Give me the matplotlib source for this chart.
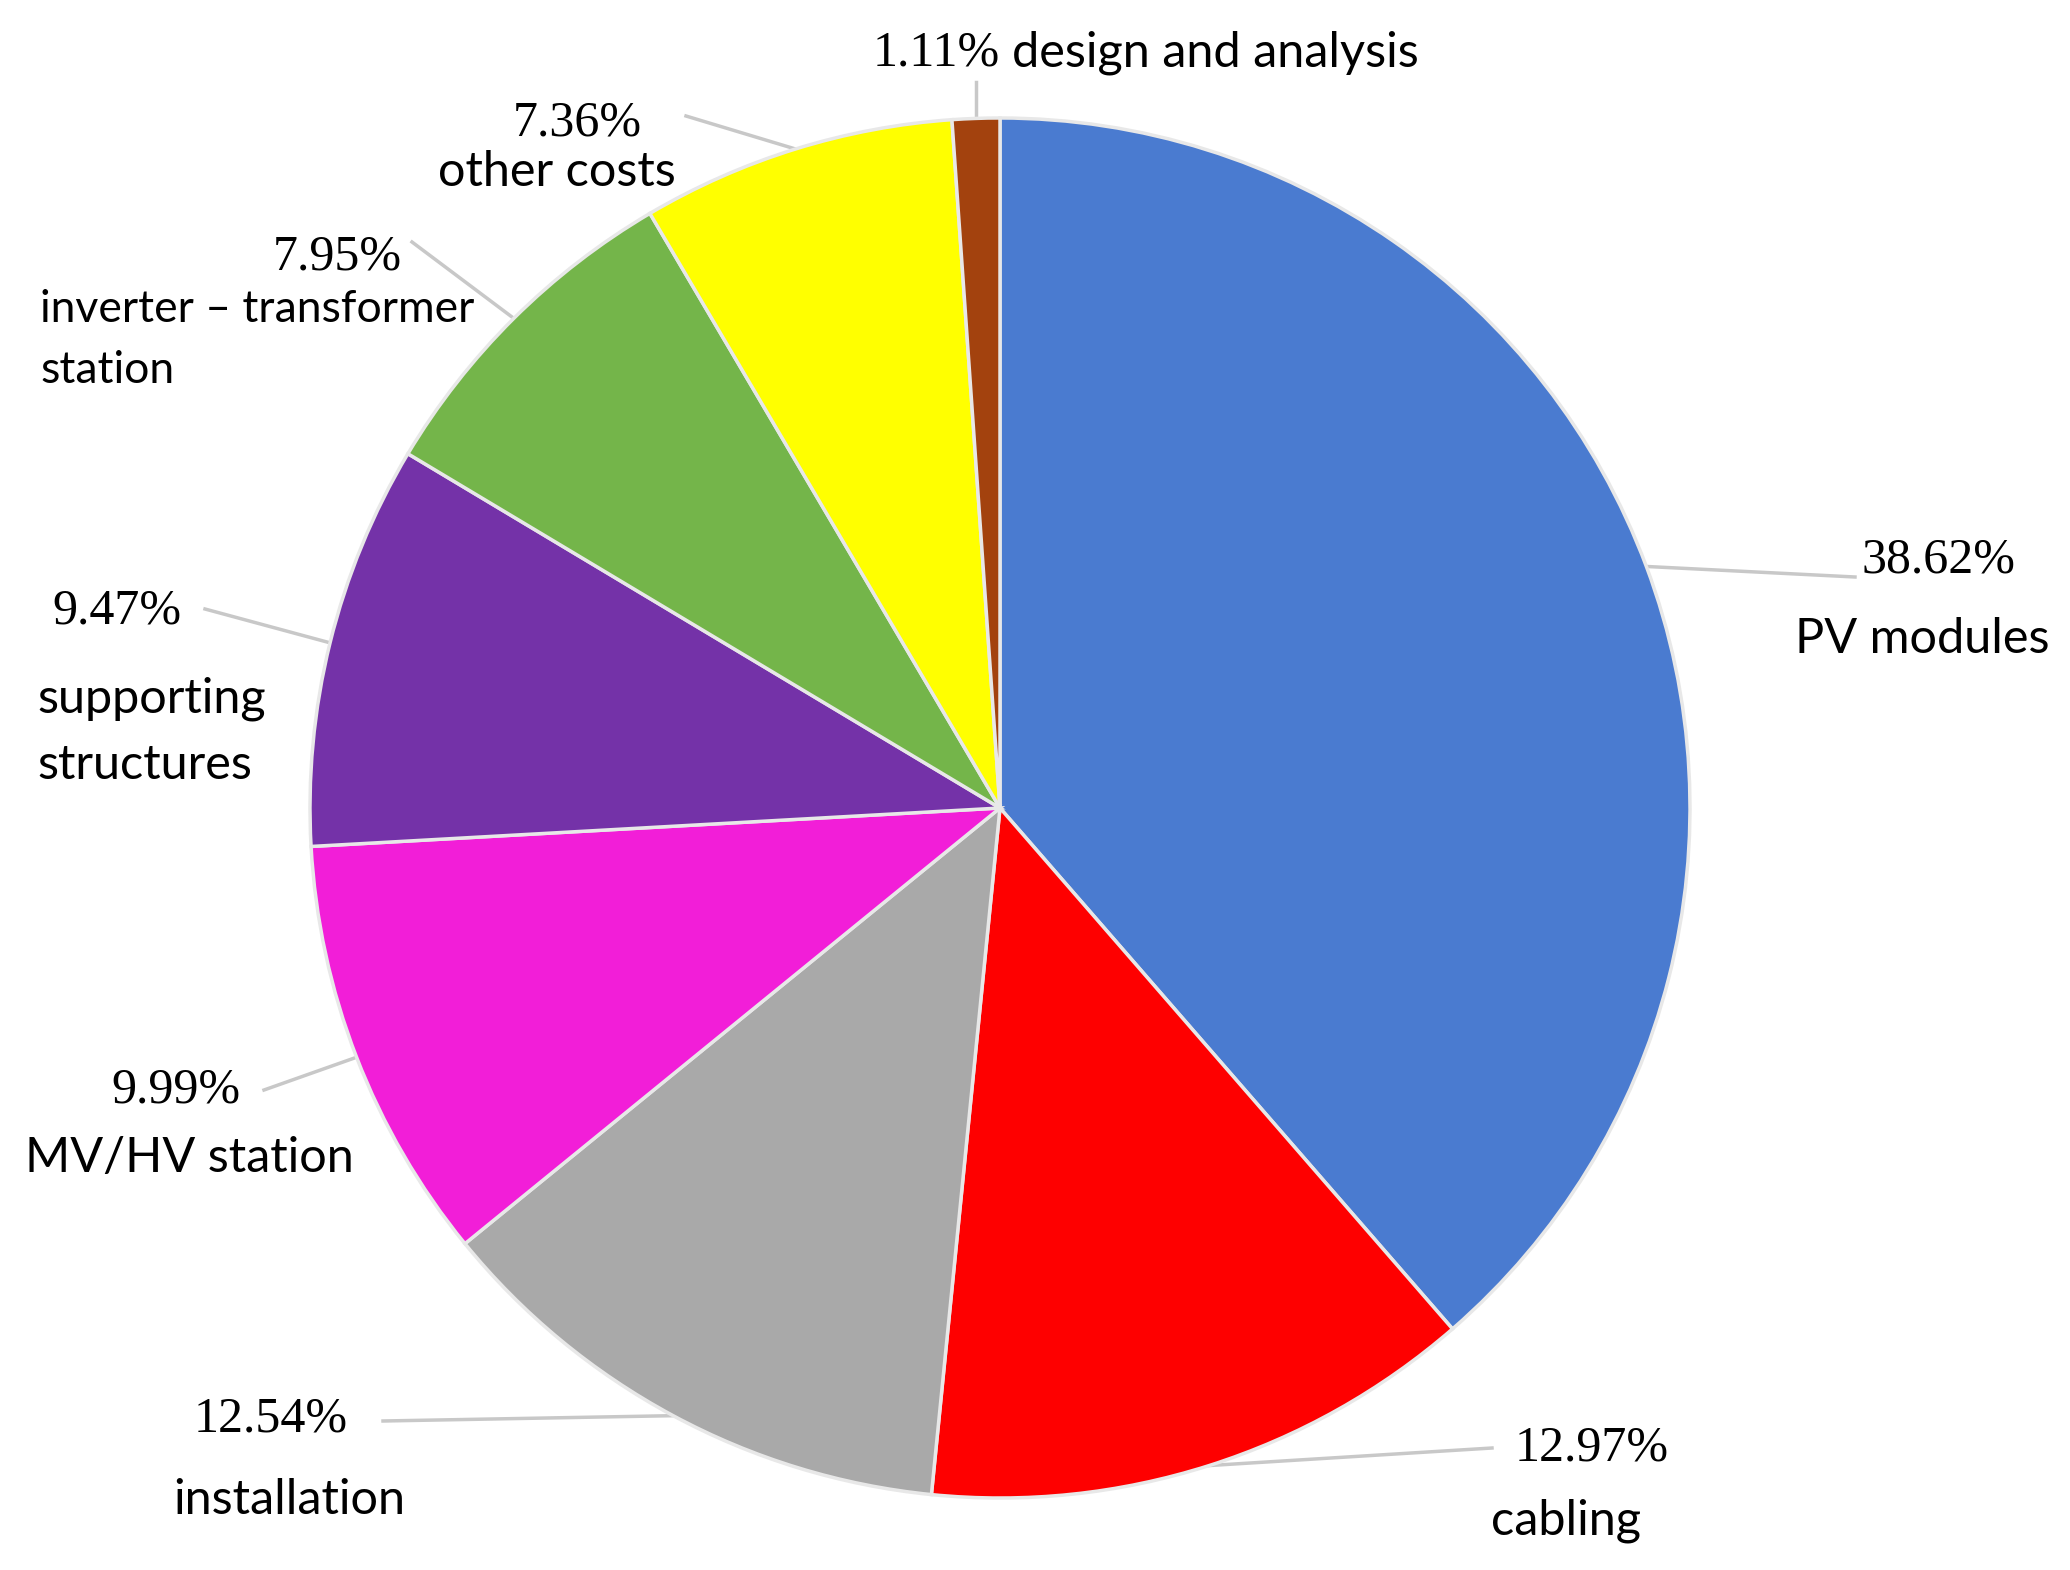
import numpy as np
import matplotlib
matplotlib.use('Agg')
import matplotlib.pyplot as plt

# slices, clockwise from 12 o'clock
categories = ["PV modules", "cabling", "installation", "MV/HV station",
              "supporting\nstructures", "inverter \u2013 transformer\nstation",
              "other costs", "design and analysis"]
shares = [38.62, 12.97, 12.54, 9.99, 9.47, 7.95, 7.36, 1.11]
colors = ["#4a7bd0", "#fe0000", "#a9a9a9", "#f21ed8",
          "#7432a8", "#74b54a", "#ffff00", "#a3420e"]

W, H = 2070, 1570
CX, CY, R = 1000, H - 808, 690

fig = plt.figure(figsize=(W / 100, H / 100), dpi=100)
ax = fig.add_axes([0, 0, 1, 1])

wedges, _ = ax.pie(shares, colors=colors, startangle=90, counterclock=False,
                   center=(CX, CY), radius=R, frame=True,
                   wedgeprops=dict(edgecolor='#e8e8e8', linewidth=2.5))
ax.set_xlim(0, W)
ax.set_ylim(0, H)
ax.set_aspect('equal')
ax.axis('off')

# label layout: (pct pos, name pos, name alignment, leader end, name size) in image px (y down)
SANS = ['Lato', 'DejaVu Sans']
SERIF = ['Liberation Serif', 'DejaVu Serif']
FS = 35
FSP = 36
layout = {
    "PV modules": ((1938, 560), (1922, 639), 'center', (1855, 577), FS),
    "cabling": ((1592, 1448), (1566, 1521), 'center', (1492, 1448), FS),
    "installation": ((271, 1419), (289, 1500), 'center', (383, 1421), FS),
    "MV/HV station": ((176, 1090), (189, 1158), 'center', (264, 1090), FS),
    "supporting\nstructures": ((117, 611), (37, 732), 'left', (205, 609), FS),
    "inverter \u2013 transformer\nstation": ((337, 257), (40, 340), 'left', (412, 242), 32),
    "other costs": ((577, 123), (557, 172), 'center', (686, 116), FS),
}

for w, cat, val in zip(wedges, categories, shares):
    mid = np.deg2rad((w.theta1 + w.theta2) / 2)
    ex, ey = CX + R * np.cos(mid), CY + R * np.sin(mid)
    if cat == "design and analysis":
        ax.plot([ex, ex], [ey, H - 82], color='#c8c8c8', lw=2.5, zorder=0)
        ax.text(1000, H - 53, f"{val:.2f}%", family=SERIF, fontsize=FSP,
                ha='right', va='center')
        ax.text(1012, H - 53, "design and analysis", family=SANS, fontsize=FS,
                ha='left', va='center')
        continue
    (px, py), (nx, ny), nha, (lx, ly), fs = layout[cat]
    ax.plot([ex, lx], [ey, H - ly], color='#c8c8c8', lw=2.5, zorder=0)
    ax.text(px, H - py, f"{val:.2f}%", family=SERIF, fontsize=FSP,
            ha='center', va='center')
    ax.text(nx, H - ny, cat, family=SANS, fontsize=fs, ha=nha, va='center',
            linespacing=1.6)

plt.savefig("out.png", dpi=100)
